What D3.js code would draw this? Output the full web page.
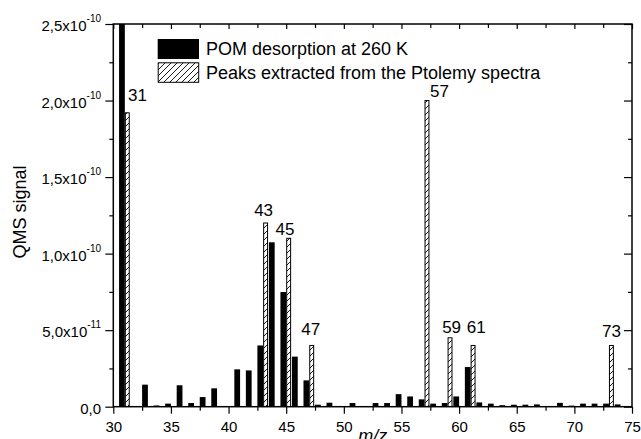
<!DOCTYPE html>
<html><head><meta charset="utf-8">
<script src="https://cdn.jsdelivr.net/npm/d3@7"></script>
<style>
body{margin:0;background:#fff}
svg{display:block}
text{font-family:Arial,"Liberation Sans",sans-serif;fill:#000}
</style>
</head><body>
<svg id="c" width="641" height="439"></svg>
<script>
// ---- data ----
const pomMz = [31,33,34,35,36,37,38,39,41,42,43,44,45,46,47,48,49,51,53,54,55,56,57,58,59,60,61,62,63,64,65,66,67,69,70,71,72,73,74];
const pomSignal = [2.5e-10,1.44e-11,0.08e-11,0.2e-11,1.4e-11,0.24e-11,0.63e-11,1.2e-11,2.44e-11,2.37e-11,4.0e-11,10.74e-11,7.49e-11,3.27e-11,1.72e-11,0.13e-11,0.26e-11,0.24e-11,0.24e-11,0.24e-11,0.82e-11,0.67e-11,0.48e-11,0.2e-11,0.24e-11,0.67e-11,2.59e-11,0.28e-11,0.2e-11,0.1e-11,0.13e-11,0.13e-11,0.15e-11,0.25e-11,0.07e-11,0.2e-11,0.2e-11,0.2e-11,0.15e-11];
const ptolemyMz = [31,43,45,47,57,59,61,73];
const ptolemySignal = [1.92e-10,1.2e-10,1.1e-10,4.0e-11,2.0e-10,4.5e-11,4.0e-11,4.0e-11];
const peakLabels = ["31","43","45","47","57","59","61","73"];
const peakLabelMz = [32.1,43.04,44.89,47.12,58.3,59.35,61.48,73.22];
const peakLabelSignal = [2.0e-10,1.248e-10,1.121e-10,4.68e-11,2.02e-10,4.79e-11,4.79e-11,4.55e-11];
const xTicks = [30,35,40,45,50,55,60,65,70,75];
const xTickLabels = ["30","35","40","45","50","55","60","65","70","75"];
const yTicks = [0,5e-11,1e-10,1.5e-10,2e-10,2.5e-10];
const yTickMant = ["0,0","5,0x10","1,0x10","1,5x10","2,0x10","2,5x10"];
const yTickExp = ["","-11","-10","-10","-10","-10"];
const legendLabels = ["POM desorption at 260 K","Peaks extracted from the Ptolemy spectra"];
const xTitle = "m/z";
const yTitle = "QMS signal";

// ---- layout ----
const L = 113.3, R = 632, T = 24, B = 406.7;
const svg = d3.select("#c");
const x = d3.scaleLinear().domain([30,75]).range([L,R]);
const y = d3.scaleLinear().domain([0,2.5e-10]).range([B,T]);

const defs = svg.append("defs");
const pat = defs.append("pattern").attr("id","hatch").attr("patternUnits","userSpaceOnUse")
  .attr("width",6).attr("height",6);
pat.append("rect").attr("width",6).attr("height",6).attr("fill","#fff");
pat.append("path").attr("d","M-1,1 L1,-1 M0,6 L6,0 M5,7 L7,5").attr("stroke","#000").attr("stroke-width",0.9);
defs.append("clipPath").attr("id","plot").append("rect").attr("x",L).attr("y",T).attr("width",R-L).attr("height",B-T);

const g = svg.append("g").attr("clip-path","url(#plot)");
const bw = 0.5, hw = 0.34;
g.selectAll("rect.pom").data(pomMz.map((m,i)=>({m,v:pomSignal[i]}))).join("rect")
  .attr("class","pom")
  .attr("x",d=>x(d.m-bw)).attr("width",d=>x(d.m)-x(d.m-bw))
  .attr("y",d=>y(Math.min(d.v,2.5e-10))).attr("height",d=>B-y(Math.min(d.v,2.5e-10)))
  .attr("fill","#000");
g.selectAll("rect.pt").data(ptolemyMz.map((m,i)=>({m,v:ptolemySignal[i]}))).join("rect")
  .attr("class","pt")
  .attr("x",d=>x(d.m)+0.5).attr("width",d=>x(d.m+hw)-x(d.m))
  .attr("y",d=>y(d.v)).attr("height",d=>B-y(d.v))
  .attr("fill","url(#hatch)").attr("stroke","#000").attr("stroke-width",1);

// peak labels
svg.selectAll("text.pk").data(peakLabels).join("text").attr("class","pk")
  .attr("x",(d,i)=>x(peakLabelMz[i])).attr("y",(d,i)=>y(peakLabelSignal[i]))
  .attr("text-anchor","middle").attr("font-size",17).text(d=>d);

// axes
const minorX = d3.range(30,75.01,2.5).filter(v=>!xTicks.includes(v));
const minorY = d3.range(0,2.5001e-10,2.5e-11).filter(v=>!yTicks.some(t=>Math.abs(t-v)<1e-13));
function styleAxis(sel){ sel.select(".domain").remove(); sel.selectAll("line").attr("stroke","#000").attr("stroke-width",1.2); }

const bx = svg.append("g").attr("transform",`translate(0,${B})`)
  .call(d3.axisBottom(x).tickValues(xTicks).tickSize(7).tickPadding(7.3).tickFormat((d,i)=>xTickLabels[i]));
styleAxis(bx); bx.selectAll("text").attr("font-size",15).attr("font-family","Arial,'Liberation Sans',sans-serif");
styleAxis(svg.append("g").attr("transform",`translate(0,${B})`).call(d3.axisBottom(x).tickValues(minorX).tickSize(4).tickFormat("")));
styleAxis(svg.append("g").attr("transform",`translate(0,${T})`).call(d3.axisTop(x).tickValues(xTicks).tickSize(-5).tickFormat("")));
styleAxis(svg.append("g").attr("transform",`translate(0,${T})`).call(d3.axisTop(x).tickValues(minorX).tickSize(-4).tickFormat("")));

const ly = svg.append("g").attr("transform",`translate(${L},0)`)
  .call(d3.axisLeft(y).tickValues(yTicks).tickSize(8).tickPadding(4.3).tickFormat((d,i)=>yTickMant[i]));
styleAxis(ly);
ly.selectAll("text").attr("font-size",15).attr("font-family","Arial,'Liberation Sans',sans-serif").attr("dy","0.45em")
  .each(function(d,i){ if(yTickExp[i]) d3.select(this).append("tspan").attr("dy",-9).attr("font-size",10).text(yTickExp[i]); });
styleAxis(svg.append("g").attr("transform",`translate(${L},0)`).call(d3.axisLeft(y).tickValues(minorY).tickSize(4).tickFormat("")));
styleAxis(svg.append("g").attr("transform",`translate(${R},0)`).call(d3.axisRight(y).tickValues(yTicks).tickSize(-8).tickFormat("")));
styleAxis(svg.append("g").attr("transform",`translate(${R},0)`).call(d3.axisRight(y).tickValues(minorY).tickSize(-4).tickFormat("")));

svg.append("rect").attr("x",L).attr("y",T).attr("width",R-L).attr("height",B-T)
  .attr("fill","none").attr("stroke","#000").attr("stroke-width",1.5);

// titles
svg.append("text").attr("x",(L+R)/2).attr("y",442).attr("text-anchor","middle")
  .attr("font-size",18).attr("font-style","italic").text(xTitle);
svg.append("text").attr("transform","translate(26,212) rotate(-90)").attr("text-anchor","middle")
  .attr("font-size",18).text(yTitle);

// legend
const lg = svg.append("g");
lg.append("rect").attr("x",157.7).attr("y",39).attr("width",41.3).attr("height",20).attr("fill","#000");
lg.append("rect").attr("x",158.2).attr("y",62.8).attr("width",40.5).attr("height",19.5)
  .attr("fill","url(#hatch)").attr("stroke","#000").attr("stroke-width",1);
lg.selectAll("text").data(legendLabels).join("text")
  .attr("x",206).attr("y",(d,i)=>55+i*24).attr("font-size",18).text(d=>d);
</script>
</body></html>
